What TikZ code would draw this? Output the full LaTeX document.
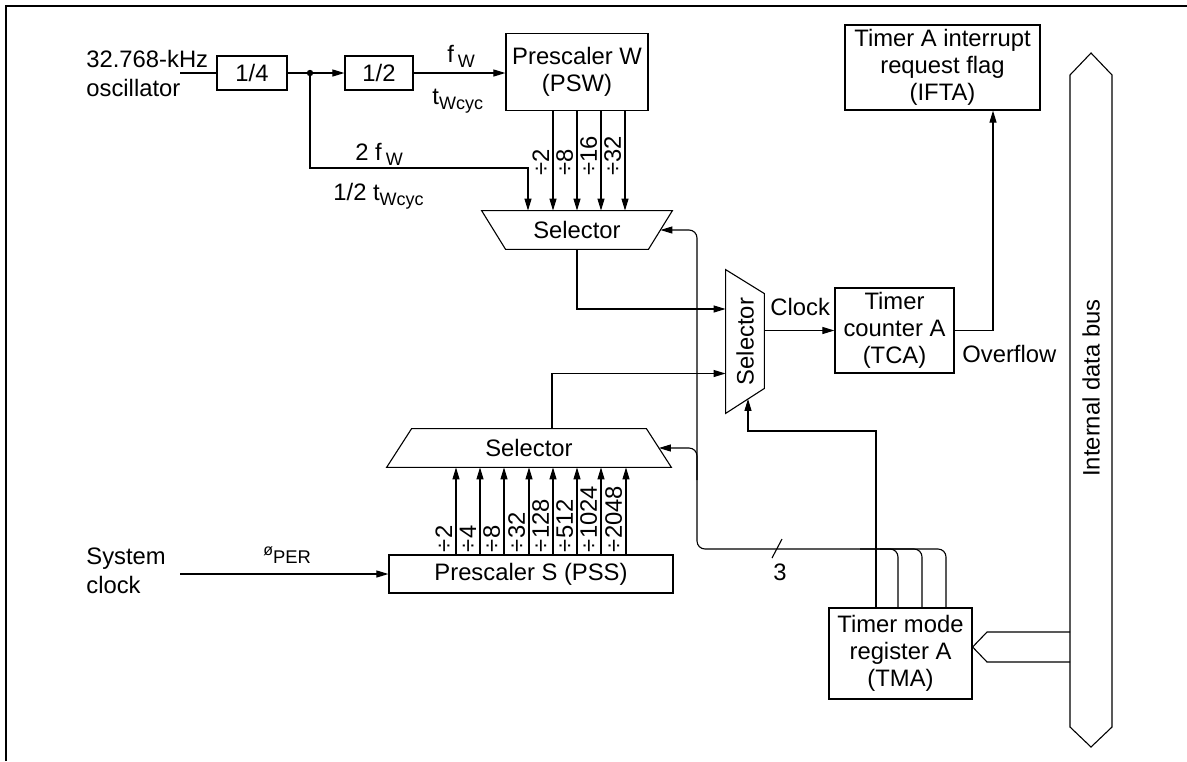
\documentclass[tikz,border=0pt]{standalone}
\usepackage{fontspec}
\setmainfont{Liberation Sans}
\usepackage{graphicx}
\usetikzlibrary{arrows.meta, calc}

\newcommand{\lsub}[1]{\raisebox{-2.6pt}{\fontsize{9}{10}\selectfont #1}}

\begin{document}
\begin{tikzpicture}[
    x=0.5pt, y=-0.5pt,
    every node/.style={font=\fontsize{11.9}{13.5}\selectfont},
    block/.style={draw, rectangle, inner sep=0pt, align=center, line width=0.6pt},
    sel/.style={rectangle, inner sep=0pt},
    wire/.style={draw, line width=0.55pt},
    sig/.style={wire, -{Triangle[length=6pt,width=3.5pt]}},
    lbl/.style={anchor=base west, inner sep=0pt},
    divlbl/.style={rotate=90, anchor=south west, inner xsep=1pt, inner ysep=1.8pt}
]
    \useasboundingbox (0,0) rectangle (1187,761);
    \draw[line width=0.9pt] (6,761) -- (6,6) -- (1187,6);

    \node[block, minimum width=35pt, minimum height=17pt]   (div4) at (252,73)    {1/4};
    \node[block, minimum width=34pt, minimum height=17pt]   (div2) at (379,73)    {1/2};
    \node[block, minimum width=71pt, minimum height=38.5pt] (psw)  at (577,72)    {Prescaler W\\(PSW)};
    \node[block, minimum width=97.5pt, minimum height=42.5pt] (ifta) at (942.5,67.5) {Timer A interrupt\\request flag\\(IFTA)};
    \node[block, minimum width=59.5pt, minimum height=42.5pt] (tca) at (894.5,330.5) {Timer\\counter A\\(TCA)};
    \node[block, minimum width=71.5pt, minimum height=45.5pt] (tma) at (900.5,653.5) {Timer mode\\register A\\(TMA)};
    \node[block, minimum width=142pt, minimum height=19pt]  (pss)  at (531,574)   {Prescaler S (PSS)};

    \node[sel, minimum width=95pt, minimum height=19pt]   (selw) at (577,230)   {Selector};
    \node[sel, minimum width=19pt, minimum height=71.5pt] (selc) at (745,341.5) {\rotatebox{90}{Selector}};
    \node[sel, minimum width=142pt, minimum height=19pt]  (sels) at (529,448)   {Selector};
    \draw[wire] (selw.north west) -- (selw.north east) -- ([xshift=-12pt]selw.south east) -- ([xshift=12pt]selw.south west) -- cycle;
    \draw[wire] (selc.north west) -- ([yshift=-12pt]selc.north east) -- ([yshift=12.5pt]selc.south east) -- (selc.south west) -- cycle;
    \draw[wire] ([xshift=12.5pt]sels.north west) -- ([xshift=-12.5pt]sels.north east) -- (sels.south east) -- (sels.south west) -- cycle;

    \draw[wire] (1070,75) -- (1091,53) -- (1112,75) -- (1112,727) -- (1091,747) -- (1070,727) -- cycle;
    \node[rotate=90] (bus) at (1091,388) {Internal data bus};

    \node[align=left, anchor=west, inner sep=0pt, font=\fontsize{11.9}{14.5}\selectfont] (osc) at (86,73) {32.768-kHz\\oscillator};
    \node[align=left, anchor=west, inner sep=0pt, font=\fontsize{11.9}{14.5}\selectfont] (sysclk) at (86,571) {System\\clock};
    \coordinate (oscout) at (180,73);
    \coordinate (tap)    at (310,73);
    \coordinate (sysout) at (180,574);

    \node[lbl] (fw)    at (447,62)  {f\,\lsub{W}};
    \node[lbl] (tw)    at (432,104) {t\lsub{Wcyc}};
    \node[lbl] (twofw) at (355,160) {2 f\,\lsub{W}};
    \node[lbl] (halft) at (333,200) {1/2 t\lsub{Wcyc}};
    \node[lbl] (clk)   at (770,315) {Clock};
    \node[lbl] (ovf)   at (962,362) {Overflow};
    \node[lbl] (nbits) at (773,580) {3};
    \node[lbl] (phi)   at (263,563) {\raisebox{4pt}{\fontsize{8}{9}\selectfont ø}\fontsize{9.2}{10}\selectfont PER};

    \draw[wire] (oscout) -- (div4.west);
    \draw[wire] (div4.east) -- (tap);
    \fill (tap) circle (1.6pt);
    \draw[sig] (tap) -- (div2.west);
    \draw[sig] (div2.east) -- (psw.west |- div2.east);
    \draw[sig] (tap) |- (528,168) -- (528,0 |- selw.north);
    \foreach \x/\d in {553/2, 577/8, 601/16, 625/32} {
        \draw[sig] (\x,0 |- psw.south) -- (\x,0 |- selw.north);
        \node[divlbl] (w\d) at (\x,178) {÷\d};
    }
    \foreach \x/\d in {456/2, 480/4, 504/8, 529/32, 553/128, 577/512, 601/1024, 626/2048} {
        \draw[sig] (\x,0 |- pss.north) -- (\x,0 |- sels.south);
        \node[divlbl] (s\d) at (\x,0 |- pss.north) {÷\d};
    }
    \draw[sig] (sysout) -- (pss.west);

    \draw[sig] (selw.south) |- ([yshift=16.25pt]selc.west);
    \draw[sig] ([xshift=11.5pt]sels.north) |- ([yshift=-16pt]selc.west);
    \draw[sig] (selc.east |- tca.west) -- (tca.west);
    \draw[sig] (tca.east) -| (993,0 |- ifta.south);

    \draw[sig] (876,0 |- tma.north) |- (748,431) -- ([xshift=1.5pt,yshift=7.25pt]selc.south);
    \draw[sig, rounded corners=4pt] (946,0 |- tma.north) |- (697,549) |- ([xshift=-6pt]selw.east);
    \draw[wire, rounded corners=4pt] (922,0 |- tma.north) |- (880,549);
    \draw[wire, rounded corners=4pt] (898,0 |- tma.north) |- (860,549);
    \draw[sig, rounded corners=4pt] (697,480) |- ([xshift=-6.25pt]sels.east);
    \draw[wire] (772,558) -- (782,539);

    \draw[wire] (1070,632) -- (987,632) -- (tma.east |- 0,647) -- (987,662) -- (1070,662);
\end{tikzpicture}
\end{document}
